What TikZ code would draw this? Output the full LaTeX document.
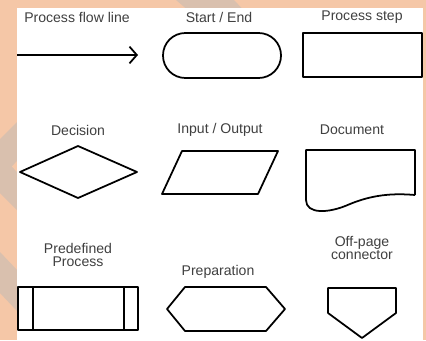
\documentclass[tikz,border=0pt]{standalone}
\usepackage{fontspec}
\setmainfont{Liberation Sans}
\usepackage{tikz}
\usetikzlibrary{arrows.meta}
\definecolor{SPeach}{HTML}{F5C7A7}
\definecolor{STan}{HTML}{D9C0AE}
\definecolor{SText}{HTML}{404040}

\begin{document}
\begin{tikzpicture}[
  x=0.03cm,y=-0.03cm,
  every node/.style={font=\fontsize{12}{10.5}\selectfont,text=SText,
    align=center,inner sep=0pt},
  shp/.style={draw=black,line width=1.5pt,line join=round},
  arr/.style={-{Straight Barb[length=2.2mm,width=5mm]},line width=1.5pt}
]
  \useasboundingbox (0,0) rectangle (426,340);
  % backdrop
  \fill[SPeach] (0,0) rectangle (426,340);
  \fill[STan] (17,122) -- (0,139) -- (0,193) -- (17,210) -- cycle;
  \fill[SPeach] (17,161) -- (12,166.5) -- (17,172) -- cycle;
  \fill[STan] (0,252) -- (17,270) -- (17,311) -- (0,293) -- cycle;
  \fill[STan] (176,0) -- (234,0) -- (242,8.5) -- (186,8.5) -- cycle;
  \fill[white] (17,8.5) rectangle (423,340);

  % labels
  \node (lflow) at (77,17) {Process flow line};
  \node (lterm) at (219,17) {Start / End};
  \node (lproc) at (362,17) {Process step};
  \node (ldec) at (78,130) {Decision};
  \node (lio) at (220,130) {Input / Output};
  \node (ldoc) at (352,130) {Document};
  \node (lpre) at (78,255) {Predefined\\Process};
  \node (lprep) at (218,272) {Preparation};
  \node (loff) at (362,248) {Off-page\\connector};

  % row 1
  \coordinate (fstart) at (17,55);
  \coordinate (fend) at (138,55);
  \draw[arr] (fstart) -- (fend);
  \draw[shp,rounded corners=0.67cm] (163,33) rectangle (281,78);
  \draw[shp] (303,33) rectangle (422,77);

  % row 2
  \draw[shp] (20,172) -- (78,146) -- (137,172) -- (78,198) -- cycle;
  \draw[shp] (182,151) -- (278,151) -- (258,194) -- (162,194) -- cycle;
  \draw[shp] (415,195) -- (415,150) -- (306,150) -- (306,200)
    .. controls (306,214) and (328,214) .. (350,204)
    .. controls (372,195) and (392,193) .. (415,195);

  % row 3
  \draw[shp] (18,287) rectangle (138,330);
  \draw[shp] (33,287) -- (33,330) (124,287) -- (124,330);
  \draw[shp] (167,309) -- (185,287) -- (266,287) -- (285,309)
    -- (266,331) -- (185,331) -- cycle;
  \draw[shp] (328,288) -- (396,288) -- (396,313) -- (362,338)
    -- (328,313) -- cycle;
\end{tikzpicture}
\end{document}
